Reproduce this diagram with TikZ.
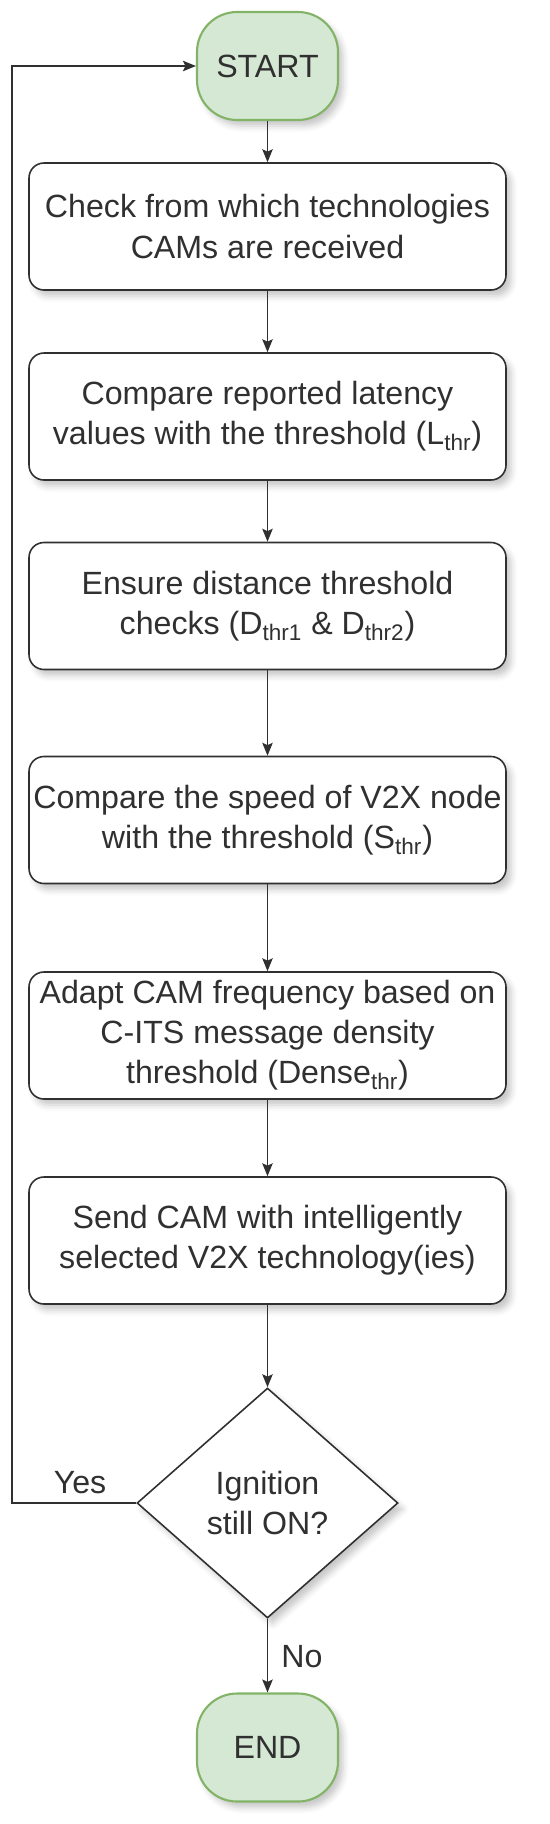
\documentclass[tikz,border=0pt]{standalone}
\usepackage{fontspec}
\setmainfont{Liberation Sans}
\usepackage{xcolor}
\usetikzlibrary{shapes,arrows.meta,shadows.blur}
\definecolor{termfill}{HTML}{D5E8D4}
\definecolor{termdraw}{HTML}{82B366}
\definecolor{ink}{HTML}{303030}
\tikzstyle{every node} = [font=\fontsize{18.3}{22.8}\selectfont, text=ink]
\tikzstyle{soft} = [blur shadow={shadow xshift=1mm, shadow yshift=-1.2mm, shadow blur radius=1.2mm, shadow opacity=22}]
\tikzstyle{terminal} = [draw=termdraw, fill=termfill, line width=1.2pt, rounded corners=0.8cm, minimum width=2.82cm, minimum height=2.16cm, soft]
\tikzstyle{process} = [draw=ink, fill=white, line width=0.9pt, rounded corners=0.3cm, minimum width=9.54cm, minimum height=2.54cm, inner sep=0.5mm, align=center, soft]
\tikzstyle{decision} = [diamond, draw=ink, fill=white, line width=0.9pt, minimum width=5.22cm, minimum height=4.6cm, inner sep=0pt, align=center, soft]
\tikzstyle{line} = [draw=ink, line width=0.8pt, -{Stealth[length=2.6mm, width=2.1mm, inset=0.5mm]}]

\begin{document}
\begin{tikzpicture}
\useasboundingbox (0,0) rectangle (11,-36.48);
\node[terminal] (start) at (5.35,-1.32) {START};
\node[process] (recv) at (5.35,-4.53) {Check from which technologies\\CAMs are received};
\node[process] (lat) at (5.35,-8.33) {Compare reported latency\\values with the threshold (L\textsubscript{thr})};
\node[process] (dist) at (5.35,-12.12) {Ensure distance threshold\\checks (D\textsubscript{thr1} \& D\textsubscript{thr2})};
\node[process] (speed) at (5.35,-16.4) {Compare the speed of V2X node\\with the threshold (S\textsubscript{thr})};
\node[process] (dense) at (5.35,-20.71) {Adapt CAM frequency based on\\C-ITS message density\\threshold (Dense\textsubscript{thr})};
\node[process] (send) at (5.35,-24.81) {Send CAM with intelligently\\selected V2X technology(ies)};
\node[decision] (ign) at (5.35,-30.06) {Ignition\\still ON?};
\node[terminal] (end) at (5.35,-34.95) {END};
%
\coordinate (loop) at (0.24,-1.32);
\node at (1.6,-29.66) {Yes};
\node at (6.04,-33.14) {No};
%
\path[line] (start) -- (recv);
\path[line] (recv) -- (lat);
\path[line] (lat) -- (dist);
\path[line] (dist) -- (speed);
\path[line] (speed) -- (dense);
\path[line] (dense) -- (send);
\path[line] (send) -- (ign);
\path[line] (ign) -- (end);
\path[line] (ign.west) -| (loop) -- (start.west);
\end{tikzpicture}
\end{document}
